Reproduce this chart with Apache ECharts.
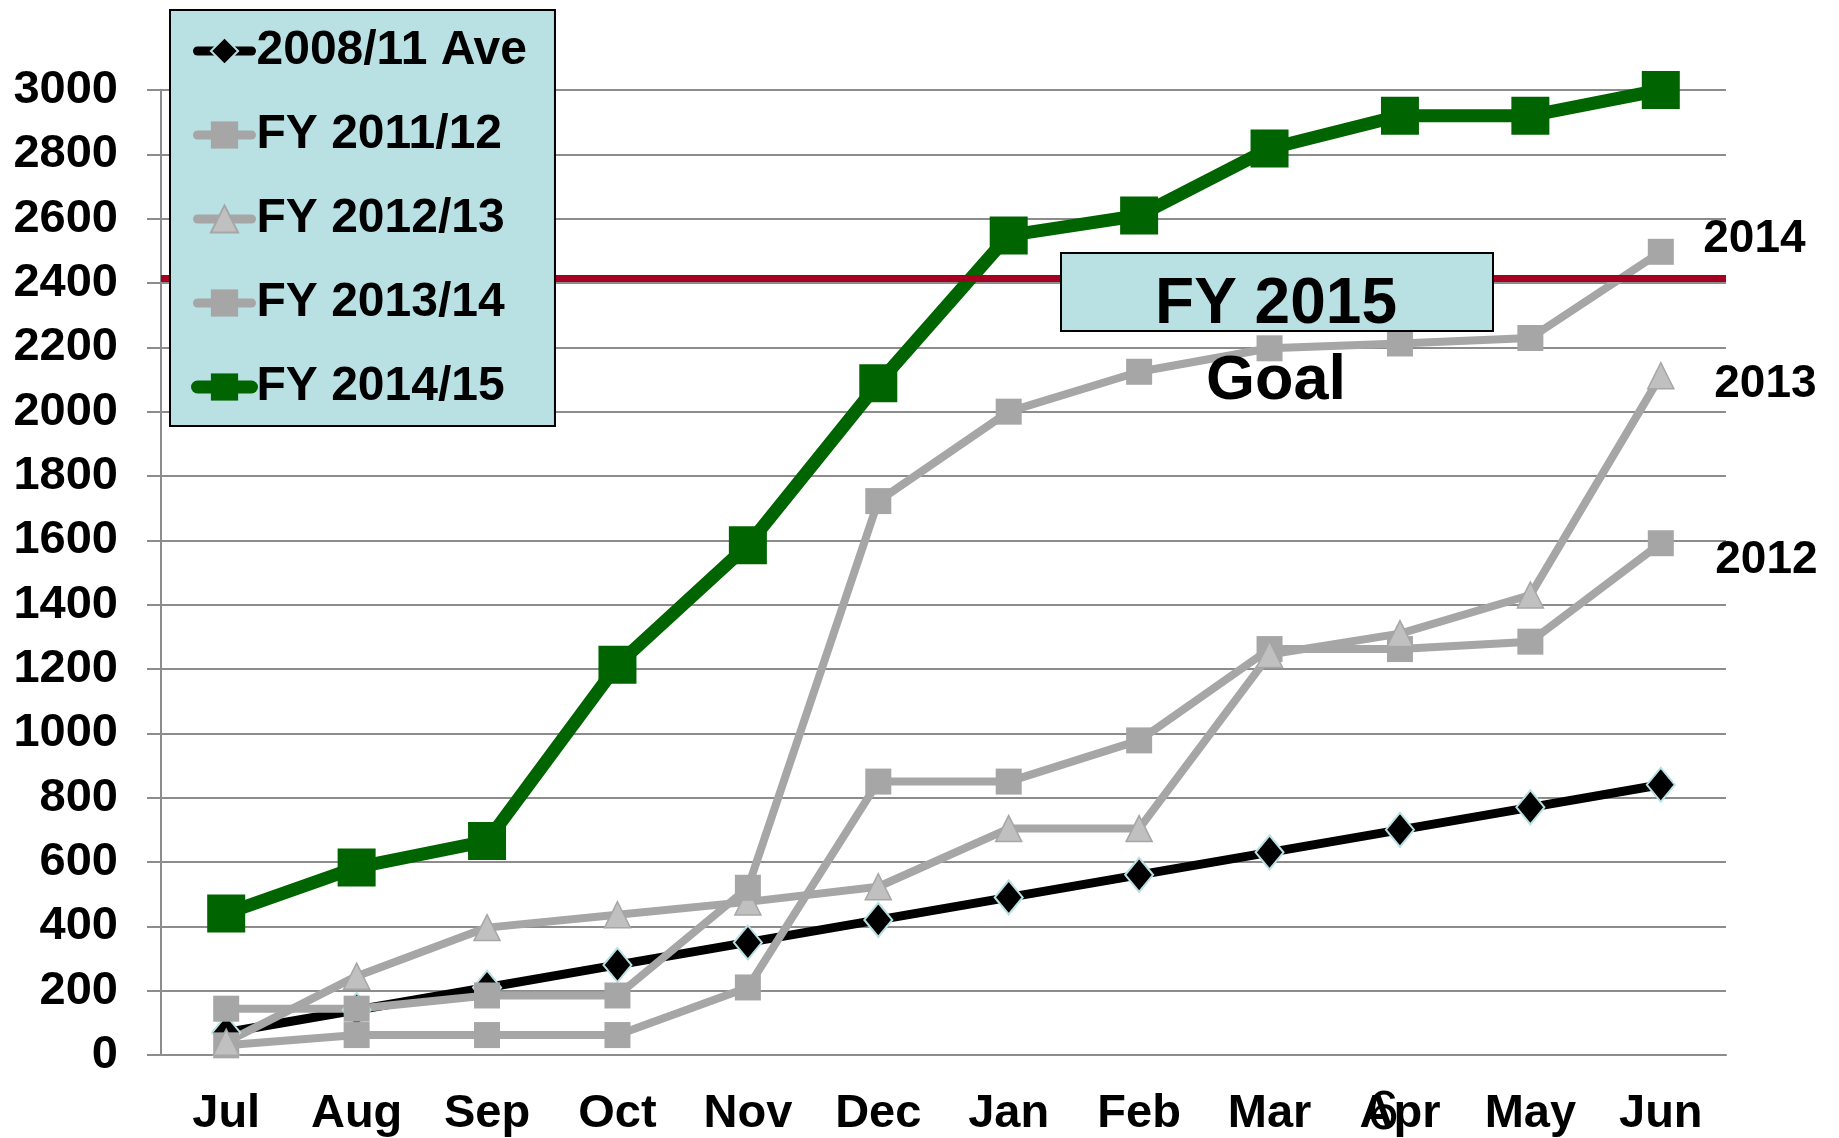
<!DOCTYPE html>
<html>
<head>
<meta charset="utf-8">
<title>FY 2014/15 cumulative</title>
<script src="https://cdn.jsdelivr.net/npm/echarts@6/dist/echarts.min.js"></script>
<style>
  html, body { margin: 0; padding: 0; background: #fff; }
  #main { width: 1839px; height: 1138px; }
</style>
</head>
<body>
<div id="main"></div>
<script>
// categories
var months = ['Jul', 'Aug', 'Sep', 'Oct', 'Nov', 'Dec', 'Jan', 'Feb', 'Mar', 'Apr', 'May', 'Jun'];

// series values
var ave0811 = [70, 140, 210, 280, 350, 420, 490, 560, 630, 700, 770, 840];
var fy1112 = [30, 62, 62, 62, 210, 850, 850, 978, 1262, 1262, 1285, 1591];
var fy1213 = [40, 245, 396, 436, 476, 523, 704, 704, 1245, 1310, 1430, 2112];
var fy1314 = [144, 144, 185, 185, 520, 1722, 2000, 2124, 2197, 2212, 2229, 2497];
var fy1415 = [440, 583, 665, 1213, 1585, 2088, 2548, 2610, 2818, 2920, 2920, 3000];
var goalValue = 2416;

// end labels
var endNames = ['2012', '2013', '2014'];

var font = "'Liberation Sans', Arial, sans-serif";
var gray = '#a6a6a6';
var gridGray = '#8c8c8c';

var chart = echarts.init(document.getElementById('main'));

// label at the last point of a series
function endMark(series, text, dx, dy) {
  return {
    silent: true,
    symbol: 'circle',
    symbolSize: 1,
    itemStyle: { color: 'rgba(0,0,0,0)' },
    label: {
      show: true,
      position: 'right',
      distance: 0,
      offset: [dx, dy],
      formatter: text,
      color: '#000',
      fontSize: 46,
      fontWeight: 'bold',
      fontFamily: font
    },
    data: [{ coord: [months.length - 1, series[series.length - 1]] }]
  };
}

chart.setOption({
  animation: false,
  backgroundColor: '#fff',
  textStyle: { fontFamily: font },
  grid: { left: 161, right: 113, top: 90, bottom: 83, containLabel: false },
  legend: {
    orient: 'vertical',
    left: 170,
    top: 10,
    z: 20,
    padding: [17, 28, 15, 21],
    itemGap: 36,
    itemWidth: 54,
    itemHeight: 34,
    backgroundColor: '#b9e0e3',
    borderColor: '#000',
    borderWidth: 2,
    borderRadius: 0,
    textStyle: { fontSize: 48, lineHeight: 48, fontWeight: 'bold', color: '#000', fontFamily: font },
    data: [
      { name: '2008/11 Ave', lineStyle: { width: 9, cap: 'round' } },
      { name: 'FY 2011/12', lineStyle: { width: 9, cap: 'round' } },
      { name: 'FY 2012/13', lineStyle: { width: 9, cap: 'round' } },
      { name: 'FY 2013/14', lineStyle: { width: 9, cap: 'round' } },
      { name: 'FY 2014/15', lineStyle: { width: 13, cap: 'round' } }
    ]
  },
  xAxis: {
    type: 'category',
    data: months,
    boundaryGap: true,
    axisLine: { lineStyle: { color: gridGray, width: 2 } },
    axisTick: { length: 14, lineStyle: { color: gridGray, width: 2 } },
    axisLabel: { fontSize: 47, fontWeight: 'bold', color: '#000', margin: 36, fontFamily: font }
  },
  yAxis: {
    type: 'value',
    min: 0,
    max: 3000,
    interval: 200,
    axisLine: { show: true, lineStyle: { color: gridGray, width: 2 } },
    axisTick: { show: true, length: 14, lineStyle: { color: gridGray, width: 2 } },
    splitLine: { lineStyle: { color: gridGray, width: 2 } },
    axisLabel: {
      fontSize: 47, fontWeight: 'bold', color: '#000', margin: 43, fontFamily: font,
      formatter: function (v) { return String(v); }
    }
  },
  series: [
    {
      name: '2008/11 Ave',
      type: 'line',
      data: ave0811,
      showAllSymbol: true,
      symbol: 'diamond',
      symbolSize: [28, 34],
      lineStyle: { color: '#000', width: 9, cap: 'round' },
      itemStyle: { color: '#000', borderColor: '#b9e0e3', borderWidth: 2 },
      emphasis: { disabled: true },
      markLine: {
        silent: true,
        symbol: 'none',
        label: { show: false },
        lineStyle: { color: '#a50021', width: 7, type: 'solid' },
        data: [{ yAxis: goalValue }]
      }
    },
    {
      name: 'FY 2011/12',
      type: 'line',
      data: fy1112,
      showAllSymbol: true,
      symbol: 'rect',
      symbolSize: 26,
      lineStyle: { color: gray, width: 8, cap: 'round' },
      itemStyle: { color: gray },
      emphasis: { disabled: true },
      markPoint: endMark(fy1112, endNames[0], 54, 17)
    },
    {
      name: 'FY 2012/13',
      type: 'line',
      data: fy1213,
      showAllSymbol: true,
      symbol: 'triangle',
      symbolSize: 26,
      lineStyle: { color: gray, width: 8, cap: 'round' },
      itemStyle: { color: '#c0c0c0', borderColor: gray, borderWidth: 1.5 },
      emphasis: { disabled: true },
      markPoint: endMark(fy1213, endNames[1], 53, 9)
    },
    {
      name: 'FY 2013/14',
      type: 'line',
      data: fy1314,
      showAllSymbol: true,
      symbol: 'rect',
      symbolSize: 26,
      lineStyle: { color: gray, width: 8, cap: 'round' },
      itemStyle: { color: gray },
      emphasis: { disabled: true },
      markPoint: endMark(fy1314, endNames[2], 42, -12)
    },
    {
      name: 'FY 2014/15',
      type: 'line',
      data: fy1415,
      showAllSymbol: true,
      symbol: 'rect',
      symbolSize: 38,
      lineStyle: { color: '#006400', width: 13, cap: 'round' },
      itemStyle: { color: '#006400' },
      emphasis: { disabled: true }
    }
  ],
  graphic: [
    {
      type: 'rect',
      left: 1060,
      top: 252,
      z: 50,
      shape: { width: 432, height: 78 },
      style: { fill: '#b9e0e3', stroke: '#000', lineWidth: 2 }
    },
    {
      type: 'text',
      x: 1276,
      y: 305,
      z: 51,
      style: { text: 'FY 2015', font: 'bold 64px ' + font, fill: '#000', align: 'center', verticalAlign: 'middle' }
    },
    {
      type: 'text',
      x: 1276,
      y: 382,
      z: 51,
      style: { text: 'Goal', font: 'bold 63px ' + font, fill: '#000', align: 'center', verticalAlign: 'middle' }
    },
    {
      type: 'text',
      x: 1383,
      y: 1114,
      z: 51,
      style: { text: '6', font: '56px ' + font, fill: '#000', align: 'center', verticalAlign: 'middle' }
    }
  ]
});
</script>
</body>
</html>
